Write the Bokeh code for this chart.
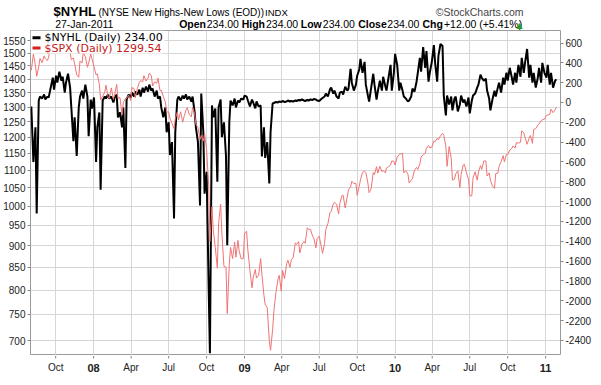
import pandas as pd
from bokeh.plotting import figure
from bokeh.layouts import column
from bokeh.models import (Range1d, LinearAxis, LinearScale, FixedTicker, Label,
                          BoxAnnotation, NumeralTickFormatter)
from bokeh.embed import file_html
from bokeh.resources import INLINE

# ---------------- data ----------------
START_DATE = "2007-08-03"   # one sample every 3 trading days

SPX = [
    1433, 1497, 1452, 1411, 1447, 1479, 1463, 1489, 1478, 1471,
    1484, 1529, 1518, 1531, 1546, 1557, 1562, 1548, 1540, 1520,
    1535, 1549, 1502, 1475, 1481, 1458, 1416, 1407, 1469, 1462,
    1504, 1486, 1445, 1461, 1497, 1478, 1447, 1416, 1420, 1380,
    1325, 1338, 1353, 1378, 1337, 1331, 1368, 1327, 1343, 1381,
    1331, 1333, 1273, 1315, 1330, 1330, 1342, 1323, 1369, 1366,
    1332, 1365, 1389, 1395, 1390, 1413, 1393, 1404, 1423, 1413,
    1375, 1390, 1385, 1404, 1358, 1360, 1337, 1318, 1283, 1284,
    1262, 1245, 1228, 1260, 1283, 1257, 1284, 1249, 1266, 1290,
    1298, 1275, 1267, 1300, 1277, 1242, 1232, 1193, 1206, 1188,
    1213, 1161, 1057, 910, 998, 940, 896, 848, 954, 1005,
    930, 852, 850, 752, 857, 896, 870, 909, 873, 913,
    887, 869, 870, 931, 935, 890, 843, 805, 828, 845,
    826, 832, 870, 835, 789, 770, 764, 700, 682, 720,
    756, 795, 823, 832, 798, 843, 825, 858, 866, 850,
    866, 873, 907, 903, 910, 883, 903, 910, 906, 944,
    940, 940, 923, 918, 895, 918, 923, 898, 882, 905,
    940, 954, 982, 986, 1005, 1010, 1005, 979, 1007, 1028,
    1029, 995, 1025, 1044, 1052, 1068, 1061, 1062, 1029, 1054,
    1072, 1093, 1097, 1093, 1063, 1036, 1047, 1093, 1087, 1110,
    1091, 1111, 1096, 1099, 1092, 1106, 1110, 1115, 1127, 1126,
    1115, 1138, 1147, 1148, 1150, 1092, 1098, 1089, 1063, 1071,
    1075, 1099, 1108, 1102, 1118, 1139, 1146, 1150, 1166, 1174,
    1167, 1169, 1188, 1186, 1197, 1192, 1205, 1213, 1206, 1173,
    1111, 1171, 1136, 1071, 1074, 1089, 1098, 1050, 1087, 1115,
    1117, 1092, 1074, 1027, 1028, 1078, 1095, 1071, 1094, 1113,
    1102, 1127, 1127, 1083, 1092, 1071, 1055, 1048, 1090, 1091,
    1110, 1125, 1143, 1124, 1147, 1146, 1160, 1165, 1173, 1166,
    1183, 1182, 1184, 1221, 1214, 1200, 1178, 1197, 1206, 1181,
    1225, 1228, 1240, 1243, 1254, 1257, 1259, 1272, 1273, 1275,
    1293, 1281, 1291, 1299.54,
]

NYHL = [
    -40, -600, -250, -1120, 20, 60, 40, 80, 30, 60,
    50, 150, 250, 130, 270, 200, 310, 220, 260, 100,
    200, 290, 150, -50, -390, -150, -540, -50, 60, 120,
    40, 180, 60, -340, 30, -60, 50, -600, -250, -100,
    -880, 20, 60, 40, 80, 40, 60, 0, 50, 80,
    -150, -100, -250, -50, -660, 30, 80, 50, 100, 60,
    110, 80, 130, 60, 150, 100, 160, 110, 180, 120,
    140, 60, 120, 40, 60, -50, -150, -50, -300, -200,
    -530, -400, -1170, -300, 30, 60, 20, 70, 40, 80,
    30, 60, 10, 60, -100, -250, -400, -1040, 90, -300,
    -920, -700, -1880, -2530, -30, -150, -60, -800, -50, 30,
    -350, -200, -540, -1440, -200, 20, -30, 40, -50, 20,
    0, 40, 30, 70, 60, 20, -40, 30, 0, -60,
    10, -40, -30, -545, -250, -560, -400, -817, -300, -10,
    -5, 5, 0, 10, 5, 15, 5, 10, 20, 10,
    15, 10, 20, 15, 25, 20, 30, 20, 15, 25,
    20, 30, 25, 35, 30, 20, 15, 35, 45, 60,
    90, 60, 130, 150, 90, 120, 60, 40, 100, 110,
    80, 160, 120, 140, 340, 200, 120, 180, 270, 330,
    440, 300, 410, 180, 70, 10, 150, 290, 180, 30,
    110, 220, 120, 260, 170, 120, 250, 380, 120, 300,
    490, 380, 120, 200, 120, 60, 40, 10, 20, 60,
    140, 110, 210, 300, 450, 310, 560, 350, 520, 210,
    300, 410, 580, 400, 210, 470, 590, 570, 70, -130,
    70, -20, 60, -80, 40, 60, -90, -20, 70, 0,
    30, -40, 50, -110, 20, 70, 90, 150, 180, 280,
    250, 220, 240, 120, 40, -80, 30, 120, 60, 150,
    200, 100, 250, 180, 300, 220, 350, 250, 180, 300,
    200, 380, 260, 450, 300, 400, 540, 250, 380, 200,
    300, 150, 250, 350, 200, 400, 300, 250, 380, 180,
    300, 150, 220, 234,
]

LEFT_TICKS = [700, 750, 800, 850, 900, 950, 1000, 1050, 1100, 1150,
              1200, 1250, 1300, 1350, 1400, 1450, 1500, 1550]
RIGHT_TICKS = [-2400, -2200, -2000, -1800, -1600, -1400, -1200, -1000,
               -800, -600, -400, -200, 0, 200, 400, 600]
X_TICK_DATES = ["2007-10-01", "2008-01-01", "2008-04-01", "2008-07-01",
                "2008-10-01", "2009-01-01", "2009-04-01", "2009-07-01",
                "2009-10-01", "2010-01-01", "2010-04-01", "2010-07-01",
                "2010-10-01", "2011-01-01"]
X_TICK_LABELS = ["Oct", "08", "Apr", "Jul", "Oct", "09", "Apr", "Jul",
                 "Oct", "10", "Apr", "Jul", "Oct", "11"]

# ---------------- layout ----------------
W = 601
HEAD_H, MAIN_H, FOOT_H = 30, 325, 30
BL, BR = 29, 41
X0 = pd.Timestamp("2007-08-01")
X1 = pd.Timestamp("2011-02-06")
TICK_COLOR = "#888888"

dates = pd.date_range(START_DATE, periods=len(SPX), freq="3B")
tick_ms = [pd.Timestamp(d).value / 1e6 for d in X_TICK_DATES]

# ---------- header (page coordinates) ----------
head = figure(width=W, height=HEAD_H, x_range=Range1d(0, W), y_range=Range1d(HEAD_H, 0),
              output_backend="svg", toolbar_location=None,
              x_axis_location=None, y_axis_location=None,
              min_border_left=0, min_border_right=0, min_border_top=0, min_border_bottom=0)
head.grid.visible = False
head.outline_line_color = None
head.background_fill_color = "white"
head.border_fill_color = "white"


def hlab(text, x, y, size, color="#000000", style="normal", align="left",
         font="Liberation Sans"):
    head.add_layout(Label(x=x, y=y, text=text, text_font=font, text_font_size=size,
                          text_font_style=style, text_color=color,
                          text_align=align, text_baseline="middle"))


ROW1, ROW2 = 11, 23.5
hlab("$NYHL", 26, ROW1, "13px", style="bold")
hlab("(NYSE New Highs-New Lows (EOD))", 77, ROW1 + 0.5, "10px")
hlab("INDX", 266, ROW1 + 0.5, "9.5px")
hlab("\u00a9StockCharts.com", 559, ROW1 + 0.5, "10.5px", color="#444444", align="right")
hlab("27-Jan-2011", 28, ROW2, "10.5px")
for txt, x, st in [("Open", 168.6, "bold"), ("234.00", 199.8, "normal"),
                   ("High", 239.5, "bold"), ("234.00", 267.0, "normal"),
                   ("Low", 306.5, "bold"), ("234.00", 331.5, "normal"),
                   ("Close", 371.6, "bold"), ("234.00", 404.6, "normal"),
                   ("Chg", 444.4, "bold"), ("+12.00 (+5.41%)", 468.8, "normal")]:
    hlab(txt, x, ROW2, "10.5px", style=st)
hlab("\u25b2", 551, ROW2 + 1, "8px", color="#22a022", font="DejaVu Sans")

# ---------- main chart ----------
p = figure(width=W, height=MAIN_H, x_axis_type="datetime", y_axis_type="log",
           x_range=Range1d(X0, X1), y_range=Range1d(672.7, 1593.0),
           x_axis_location=None,
           output_backend="svg", toolbar_location=None,
           min_border_left=BL, min_border_right=BR,
           min_border_top=0, min_border_bottom=0)
p.extra_y_ranges = {"nyhl": Range1d(-2553, 726.5)}
p.extra_y_scales = {"nyhl": LinearScale()}
p.background_fill_color = "white"
p.border_fill_color = "white"
p.outline_line_color = "#9a9a9a"

p.line(x=dates, y=NYHL, y_range_name="nyhl", line_color="black", line_width=2)
p.line(x=dates, y=SPX, line_color="#ef7474", line_width=1)


def style_axis(ax):
    ax.axis_line_color = None
    ax.major_tick_line_color = TICK_COLOR
    ax.major_tick_out = 3
    ax.major_tick_in = 0
    ax.minor_tick_line_color = None
    ax.major_label_text_font = "Liberation Sans"
    ax.major_label_text_font_size = "10px"
    ax.major_label_text_color = "#222222"
    ax.major_label_standoff = 2


yl = p.yaxis[0]
yl.ticker = FixedTicker(ticks=LEFT_TICKS, minor_ticks=[])
yl.formatter = NumeralTickFormatter(format="0")
style_axis(yl)

yr = LinearAxis(y_range_name="nyhl",
                ticker=FixedTicker(ticks=RIGHT_TICKS, minor_ticks=[]),
                formatter=NumeralTickFormatter(format="0"))
style_axis(yr)
p.add_layout(yr, "right")

for g in p.xgrid:
    g.ticker = FixedTicker(ticks=tick_ms, minor_ticks=[])
p.xgrid.grid_line_color = "#d6d6d6"
p.ygrid.grid_line_color = "#d6d6d6"

# legend (inside the frame, frame-relative screen units)
p.add_layout(BoxAnnotation(left=0, right=134, top=MAIN_H, bottom=MAIN_H - 23,
                           left_units="screen", right_units="screen",
                           top_units="screen", bottom_units="screen",
                           fill_color="white", fill_alpha=1.0, line_color=None))
for i, (txt, col, lcol) in enumerate([("$NYHL (Daily) 234.00", "#000000", "#000000"),
                                      ("$SPX (Daily) 1299.54", "#c42020", "#d82020")]):
    cy = MAIN_H - 7.3 - i * 10.2
    p.add_layout(BoxAnnotation(left=2, right=10, top=cy + 1.5, bottom=cy - 1.5,
                               left_units="screen", right_units="screen",
                               top_units="screen", bottom_units="screen",
                               fill_color=lcol, fill_alpha=1.0, line_color=None))
    p.add_layout(Label(x=14, y=cy, x_units="screen", y_units="screen", text=txt,
                       text_font="DejaVu Sans", text_font_size="11px",
                       text_color=col, text_baseline="middle"))

# ---------- footer: date axis ticks and labels ----------
foot = figure(width=W, height=FOOT_H, x_range=p.x_range, y_range=Range1d(FOOT_H, 0),
              output_backend="svg", toolbar_location=None,
              x_axis_location=None, y_axis_location=None,
              min_border_left=BL, min_border_right=BR, min_border_top=0, min_border_bottom=0)
foot.grid.visible = False
foot.outline_line_color = None
foot.background_fill_color = "white"
foot.border_fill_color = "white"
foot.segment(x0=tick_ms, y0=[0] * len(tick_ms), x1=tick_ms, y1=[3] * len(tick_ms),
             line_color=TICK_COLOR, line_width=1)
for t, lbl in zip(tick_ms, X_TICK_LABELS):
    bold = lbl.isdigit()
    foot.add_layout(Label(x=t, y=12, text=lbl, text_align="center", text_baseline="middle",
                          text_font="Liberation Sans",
                          text_font_size="11px" if bold else "10px",
                          text_font_style="bold" if bold else "normal",
                          text_color="#222222"))

layout = column(head, p, foot, spacing=0)
open("out.html", "w").write(file_html(layout, INLINE))
